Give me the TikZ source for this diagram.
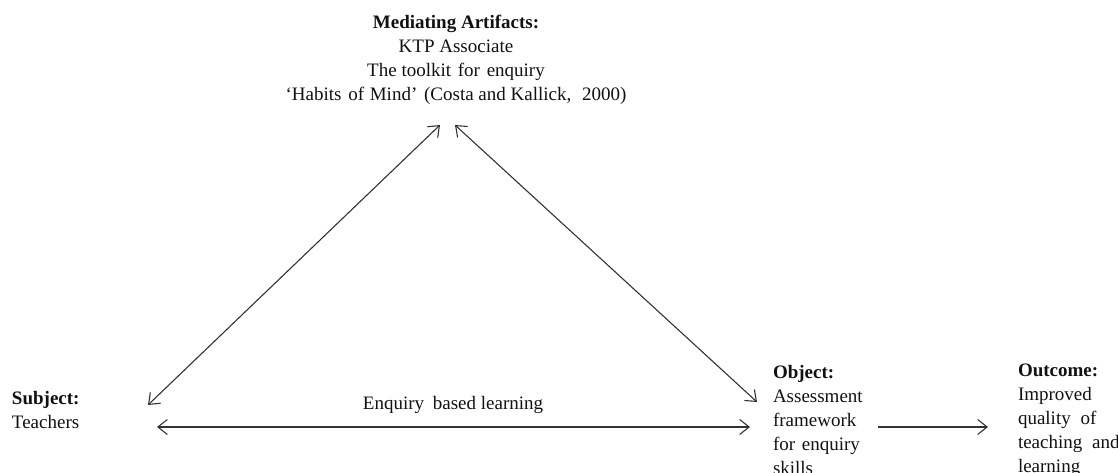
\documentclass[tikz,border=0pt]{standalone}
\usepackage{fontspec}
\setmainfont{Liberation Serif}
\usetikzlibrary{arrows.meta}
\definecolor{ink}{HTML}{111111}
\definecolor{wire}{HTML}{333333}
\begin{document}
\begin{tikzpicture}[x=1pt,y=-1pt,
  txt/.style={inner sep=0pt,outer sep=0pt,text=ink,
    font=\fontsize{19}{24}\selectfont},
  link/.style={draw=wire,line width=1.1pt,
    {Straight Barb[length=9.5pt,width=15pt]}-{Straight Barb[length=9.5pt,width=15pt]}},
  fwd/.style={draw=wire,line width=1.1pt,-{Straight Barb[length=9.5pt,width=15pt]}}]
\useasboundingbox (0,0) rectangle (1118,473);

% activity system corners (base anchor sits on the last line)
\node[txt,align=center,anchor=base] (med) at (456,101)
  {\textbf{Mediating Artifacts:}\\
   KTP Associate\\
   The toolkit\hspace{2pt} for\hspace{2pt} enquiry\\
   ‘Habits\hspace{2pt} of\hspace{1pt} Mind’\hspace{2pt} (Costa and Kallick,\hspace{6pt} 2000)};
\node[txt,align=left,anchor=base west] (subj) at (12,428)
  {\textbf{Subject:}\\Teachers};
\node[txt,align=left,anchor=base west] (obj) at (773,474)
  {\textbf{Object:}\\Assessment\\framework\\for\hspace{2pt} enquiry\\skills};
\node[txt,align=left,anchor=base west] (out) at (1018,472)
  {\textbf{Outcome:}\\Improved\\quality\hspace{5pt} of\\teaching\hspace{5pt} and\\learning};
\node[txt,anchor=base] (ebl) at (453,409) {Enquiry\hspace{4pt} based learning};

% arrow end points
\coordinate (medL) at (440,125);
\coordinate (medR) at (455,125);
\coordinate (subjD) at (148,405);
\coordinate (subjH) at (157,427);
\coordinate (objD) at (757,402);
\coordinate (objH) at (750,427);
\coordinate (objO) at (878,427);
\coordinate (outI) at (988,427);

\draw[link] (subjD) -- (medL);
\draw[link] (medR) -- (objD);
\draw[link] (subjH) -- (objH);
\draw[fwd] (objO) -- (outI);
\end{tikzpicture}
\end{document}
